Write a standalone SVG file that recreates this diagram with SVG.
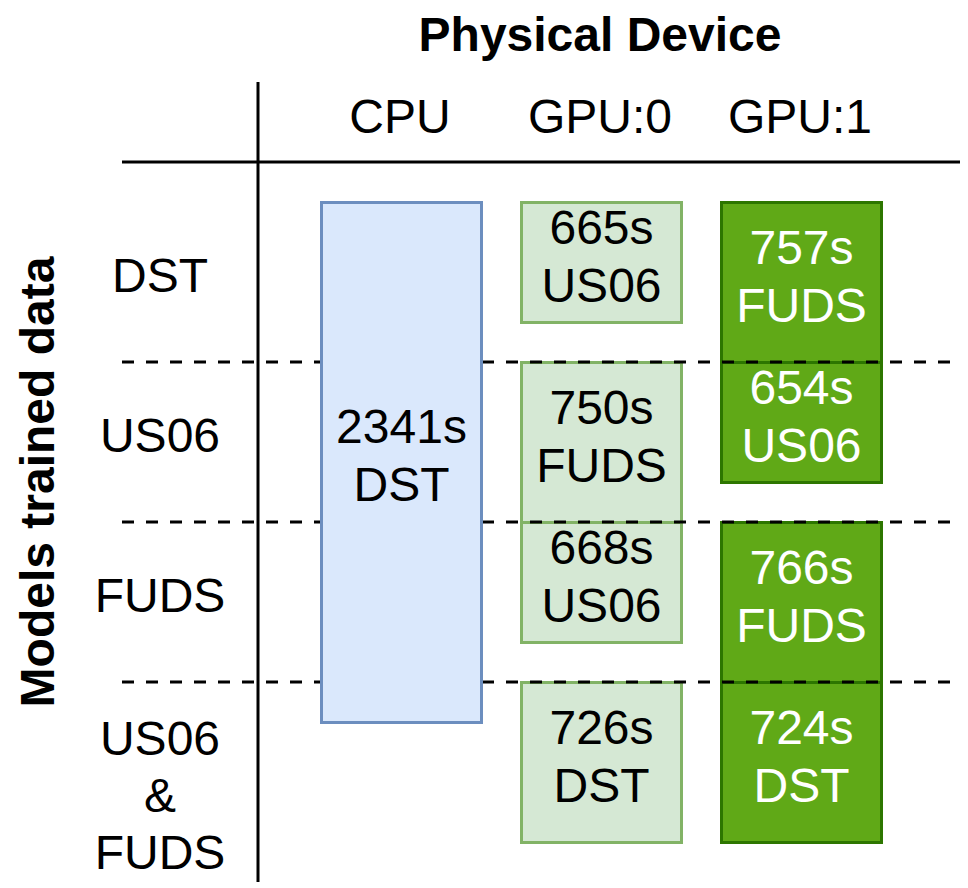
<svg xmlns="http://www.w3.org/2000/svg" width="968" height="888" viewBox="0 0 968 888">
<style>
text{font-family:"Liberation Sans",Arial,sans-serif;font-size:48px;text-anchor:middle;fill:#000}
.b{font-weight:bold}
.w{fill:#fff}
.lg{fill:#d5e8d4;stroke:#82b366;stroke-width:3}
.dg{fill:#60a917;stroke:#2d7600;stroke-width:3}
.bl{fill:#dae8fc;stroke:#6c8ebf;stroke-width:3}
.ln{stroke:#000;stroke-width:3;fill:none}
.ds{stroke-dasharray:12 12}
</style>
<rect width="968" height="888" fill="#fff"/>
<g id="header">
<text class="b" x="600" y="51">Physical Device</text>
<text x="400" y="133">CPU</text>
<text x="600" y="133">GPU:0</text>
<text x="800" y="133">GPU:1</text>
</g>
<g id="rowlabels">
<text class="b" transform="translate(54,482) rotate(-90)">Models trained data</text>
<text x="160" y="292">DST</text>
<text x="160" y="452">US06</text>
<text x="160" y="612">FUDS</text>
<text x="160" y="755">US06</text>
<text x="160" y="812">&amp;</text>
<text x="160" y="869">FUDS</text>
</g>
<g id="g0-665"><rect class="lg" x="521.5" y="202.5" width="160" height="120"/><text x="601.5" y="244">665s</text><text x="601.5" y="302">US06</text></g>
<g id="g0-750"><rect class="lg" x="521.5" y="362.5" width="160" height="160"/><text x="601.5" y="424">750s</text><text x="601.5" y="482">FUDS</text></g>
<g id="g0-668"><rect class="lg" x="521.5" y="522.5" width="160" height="120"/><text x="601.5" y="564">668s</text><text x="601.5" y="622">US06</text></g>
<g id="g0-726"><rect class="lg" x="521.5" y="682.5" width="160" height="160"/><text x="601.5" y="744">726s</text><text x="601.5" y="802">DST</text></g>
<g id="g1-757"><rect class="dg" x="721.5" y="202.5" width="160" height="160"/><text class="w" x="801.5" y="264">757s</text><text class="w" x="801.5" y="322">FUDS</text></g>
<g id="g1-654"><rect class="dg" x="721.5" y="362.5" width="160" height="120"/><text class="w" x="801.5" y="404">654s</text><text class="w" x="801.5" y="462">US06</text></g>
<g id="g1-766"><rect class="dg" x="721.5" y="522.5" width="160" height="160"/><text class="w" x="801.5" y="584">766s</text><text class="w" x="801.5" y="642">FUDS</text></g>
<g id="g1-724"><rect class="dg" x="721.5" y="682.5" width="160" height="160"/><text class="w" x="801.5" y="744">724s</text><text class="w" x="801.5" y="802">DST</text></g>
<g id="connectors">
<line class="ln" x1="258" y1="82" x2="258" y2="882"/>
<line class="ln" x1="122" y1="162" x2="960" y2="162"/>
<line class="ln ds" x1="122" y1="362" x2="960" y2="362"/>
<line class="ln ds" x1="122" y1="522" x2="960" y2="522"/>
<line class="ln ds" x1="122" y1="682" x2="960" y2="682"/>
</g>
<g id="cpu-2341"><rect class="bl" x="321.5" y="202.5" width="160" height="520"/><text x="401.5" y="443">2341s</text><text x="401.5" y="501">DST</text></g>
</svg>
